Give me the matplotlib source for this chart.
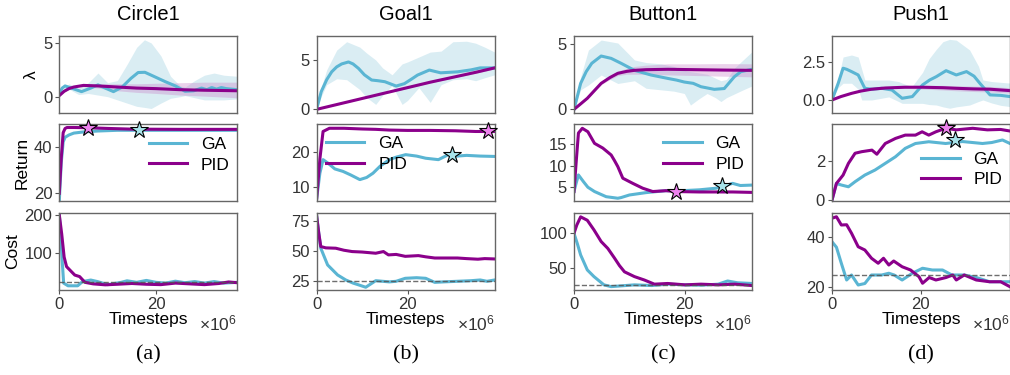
import matplotlib.pyplot as plt

plt.rcParams['font.family'] = ['Liberation Sans', 'DejaVu Sans']
plt.rcParams['mathtext.default'] = 'regular'

# ---------------- data (timesteps in units of 1e6) ----------------
envs = ['Circle1', 'Goal1', 'Button1', 'Push1']
panel_tags = ['(a)', '(b)', '(c)', '(d)']
x_end = [36.8, 39.2, 32.1, 40.1]
cost_limit = 25

# Circle1
circle_lam_ga_t = [0, 0.6, 1.2, 2.5, 4.6, 6.5, 8, 9.5, 11.2, 13, 14.8, 16.3, 17.7, 19.5, 21.9, 24, 26, 27.8, 29.4, 30.5, 31.5, 32.5, 33.5, 34.5, 36.8]
circle_lam_ga = [0.3, 0.8, 1.0, 0.8, 0.47, 0.8, 1.1, 0.8, 0.47, 0.9, 1.7, 2.25, 2.27, 1.9, 1.4, 1.0, 0.5, 0.55, 0.8, 0.65, 0.85, 0.7, 0.85, 0.75, 0.65]
circle_band_ga_t = [0, 2, 4, 6, 8, 10, 12, 14, 16, 17.6, 19, 21, 23, 25, 26, 28, 30, 32, 34, 36.8]
circle_band_ga_hi = [0.4, 1.2, 0.8, 1.3, 2.2, 1.3, 1.5, 3.0, 4.6, 5.3, 5.0, 3.8, 1.9, 1.0, 0.9, 1.5, 2.0, 2.2, 2.0, 1.9]
circle_band_ga_lo = [0.2, 0.7, 0.2, 0.3, 0.15, 0.0, -0.3, -0.6, -0.9, -1.0, -1.1, -0.6, -0.15, 0.0, 0.1, -0.1, -0.3, -0.3, -0.3, -0.2]
circle_lam_pid_t = [0, 1, 2, 3, 5, 8, 12, 16, 20, 25, 30, 36.8]
circle_lam_pid = [0.1, 0.5, 0.75, 0.9, 1.05, 1.0, 0.9, 0.8, 0.75, 0.65, 0.6, 0.55]
circle_band_pid_hi = [0.1, 0.55, 0.8, 0.95, 1.15, 1.2, 1.2, 1.2, 1.25, 1.3, 1.35, 1.35]
circle_band_pid_lo = [0.1, 0.45, 0.7, 0.85, 0.95, 0.8, 0.55, 0.4, 0.3, 0.15, 0.05, -0.1]
circle_ret_ga_t = [0, 0.4, 0.8, 1.2, 2, 3, 5, 8, 12, 17, 25, 36.8]
circle_ret_ga = [16.8, 33, 42, 44, 45, 45.8, 46.3, 46.7, 47.0, 47.0, 47.0, 47.0]
circle_ret_pid_t = [0, 0.4, 0.8, 1.2, 1.6, 3, 6, 10, 15, 25, 36.8]
circle_ret_pid = [20, 35, 46, 47.8, 48.2, 48.2, 48.1, 47.8, 47.5, 47.4, 47.4]
circle_cost_ga_t = [0, 0.3, 0.6, 0.9, 1.8, 3.8, 4.8, 6.5, 7.9, 10, 12.8, 14, 16, 18, 20, 22, 24, 26, 28, 30, 32, 34, 36.8]
circle_cost_ga = [200, 150, 80, 22, 15, 15, 26, 30, 26, 18, 24, 28, 24, 29, 24, 22, 27, 23, 26, 22, 26, 22, 24]
circle_cost_pid_t = [0, 0.5, 1, 1.5, 2.5, 3.2, 4.2, 5.3, 7, 9.5, 12, 15, 18, 21, 24, 27, 30, 33, 35, 36.8]
circle_cost_pid = [200, 150, 90, 65, 52, 43, 39, 24, 20, 17.5, 19, 21, 19, 18, 22, 20, 18, 21, 25, 23]

# Goal1
goal_lam_ga_t = [0, 1, 2.2, 3.3, 4.4, 5.5, 7, 8, 9.2, 10.5, 12.1, 13.5, 15, 17.5, 19.3, 21, 22.2, 24.8, 27.3, 31, 34, 36, 39.2]
goal_lam_ga = [0.05, 1.8, 3.0, 3.8, 4.3, 4.6, 4.8, 4.6, 4.15, 3.5, 2.97, 2.9, 2.8, 2.36, 2.6, 3.1, 3.47, 3.98, 3.7, 3.8, 4.0, 4.2, 4.2]
goal_band_ga_t = [0, 1, 2.2, 4.4, 6.6, 9.5, 11, 13, 14.5, 16.6, 18.8, 20, 22.5, 25, 27.4, 30, 33, 35, 37, 39.2]
goal_band_ga_hi = [0.1, 2.2, 4.0, 6.0, 6.85, 6.3, 5.7, 5.0, 4.2, 3.5, 4.6, 4.8, 5.3, 5.8, 5.9, 6.85, 6.9, 6.7, 6.3, 5.8]
goal_band_ga_lo = [0.0, 1.3, 2.5, 3.1, 3.0, 2.0, 1.2, 0.5, 1.4, 2.4, 0.5, 0.9, 2.2, 0.7, 2.5, 3.0, 3.1, 2.9, 3.2, 3.5]
goal_lam_pid_t = [0, 5, 10, 15, 20, 25, 30, 35, 39.2]
goal_lam_pid = [0, 0.55, 1.1, 1.65, 2.2, 2.75, 3.25, 3.75, 4.2]
goal_band_pid_hi = [0, 0.58, 1.14, 1.7, 2.26, 2.82, 3.33, 3.84, 4.3]
goal_band_pid_lo = [0, 0.52, 1.06, 1.6, 2.14, 2.68, 3.17, 3.66, 4.1]
goal_ret_ga_t = [0, 0.7, 1.4, 2.5, 4, 5.8, 7.5, 9.5, 11, 12.4, 14, 16, 17.5, 19.6, 22, 24, 26.8, 29, 31, 33, 36, 39.2]
goal_ret_ga = [7.0, 14, 17.8, 16.8, 15.2, 14.5, 13.5, 12.2, 12.8, 14.0, 16, 17.8, 18.5, 19.2, 18.8, 18.2, 17.8, 19.2, 18.8, 19.0, 18.8, 18.7]
goal_ret_pid_t = [0, 0.7, 1.4, 2.8, 6, 10, 13, 16, 20, 25, 30.5, 35, 39.2]
goal_ret_pid = [7.0, 18, 25.7, 26.6, 26.6, 26.4, 26.3, 26.1, 26.0, 26.0, 25.9, 25.7, 25.7]
goal_cost_ga_t = [0, 0.45, 0.9, 2.4, 4.6, 6.4, 8, 9.3, 10.8, 12, 13, 16, 17.5, 19.5, 22, 24, 26, 28, 31, 34, 36, 37.5, 39.2]
goal_cost_ga = [78.8, 65, 52.2, 38.2, 29.8, 25.6, 23, 21.4, 19.5, 22.5, 25, 24, 24.5, 27, 27.5, 27, 23.6, 24, 24.5, 25, 25.6, 24.5, 25.6]
goal_cost_pid_t = [0, 0.45, 0.9, 2, 4.2, 6, 7.8, 10, 13, 14.7, 15.8, 17.5, 19.5, 22.4, 24, 26, 28, 31, 33, 35.5, 37, 39.2]
goal_cost_pid = [78.8, 65, 53.6, 52.5, 52.2, 50.5, 49.4, 49, 48, 49.4, 46.6, 47, 45.4, 46, 45, 44, 44, 44, 43.5, 43, 43.5, 43.2]

# Button1
button_lam_ga_t = [0, 1.2, 2.2, 3.2, 4.9, 6.7, 8.5, 10.9, 13.9, 16.9, 18.5, 19.9, 21.5, 22.9, 25.3, 27.1, 28.9, 30.1, 32.1]
button_lam_ga = [0, 2.0, 2.9, 3.54, 4.1, 3.92, 3.54, 3.0, 2.64, 2.38, 2.25, 2.1, 2.0, 1.74, 1.54, 1.6, 2.5, 2.9, 3.08]
button_band_ga_t = [0, 1.2, 2.6, 4.9, 7.9, 10.9, 13, 15.7, 18, 19.9, 21, 22.5, 24, 25.5, 26.5, 27.5, 29, 30.5, 32.1]
button_band_ga_hi = [0, 2.5, 4.56, 5.33, 5.1, 3.8, 3.6, 3.5, 3.3, 3.0, 2.9, 2.8, 2.7, 2.4, 2.2, 2.3, 3.2, 3.8, 4.43]
button_band_ga_lo = [0, 1.5, 1.87, 2.64, 1.99, 2.2, 1.62, 1.5, 1.4, 1.22, 0.33, 0.8, 1.22, 0.9, 0.6, 0.9, 1.2, 1.5, 1.8]
button_lam_pid_t = [0, 1, 2.4, 3.7, 4.9, 6.5, 7.9, 9.5, 10.9, 13, 16.9, 22, 27, 32.1]
button_lam_pid = [0, 0.35, 0.85, 1.45, 2.0, 2.45, 2.77, 2.92, 3.0, 3.05, 3.08, 3.05, 3.02, 3.0]
button_band_pid_hi = [0, 0.38, 0.9, 1.5, 2.1, 2.6, 2.95, 3.15, 3.3, 3.4, 3.5, 3.5, 3.52, 3.5]
button_band_pid_lo = [0, 0.32, 0.8, 1.4, 1.9, 2.3, 2.6, 2.7, 2.7, 2.7, 2.65, 2.6, 2.55, 2.5]
button_ret_ga_t = [0, 0.4, 0.8, 1.7, 2.5, 3.7, 5.8, 7.9, 8.5, 10, 13, 16.6, 19.6, 22.6, 25.6, 27, 28.6, 30, 32.1]
button_ret_ga = [4.0, 6, 7.86, 6.3, 5.0, 4.0, 2.8, 2.44, 2.6, 3.2, 3.75, 4.2, 4.2, 4.4, 4.77, 5.3, 5.9, 5.4, 5.5]
button_ret_pid_t = [0, 0.4, 0.8, 1.5, 2.5, 3.7, 5.2, 6.7, 7.3, 7.9, 8.8, 9.7, 10.6, 12.4, 14.2, 16.6, 18.4, 22.6, 28.6, 32.1]
button_ret_pid = [4.0, 11, 17.6, 18.7, 17.9, 15.2, 14.1, 12.5, 11.2, 9.8, 7.1, 6.5, 5.9, 4.77, 4.0, 4.2, 4.0, 3.9, 3.9, 3.8]
button_cost_ga_t = [0, 0.6, 1.2, 2.4, 3.6, 5.4, 6.7, 8.5, 10.9, 14, 17, 20, 23, 26, 27.7, 29.5, 32.1]
button_cost_ga = [100, 85, 68.5, 46.7, 37, 25, 22.4, 23.5, 25, 24, 26, 25, 24.5, 26, 30.6, 28, 27]
button_cost_pid_t = [0, 0.5, 1.2, 2.4, 3.6, 4.9, 6.1, 7.3, 8.2, 9.1, 10.9, 12.7, 14.5, 16.9, 20, 22.9, 26, 29, 32.1]
button_cost_pid = [100, 112, 124, 119, 105, 88, 78, 64, 53, 44, 37, 32, 26, 27, 25, 26, 25, 26, 24]

# Push1
push_lam_ga_t = [0, 1.4, 2.5, 3.3, 4.4, 5.9, 7.4, 9, 11.2, 13.5, 15.8, 18.1, 20.4, 22, 23.5, 25.7, 28, 30.3, 32, 33.3, 35.6, 38, 40.1]
push_lam_ga = [0, 1.09, 2.07, 2.0, 1.85, 1.63, 0.76, 0.7, 0.76, 0.65, 0.11, 0.22, 0.98, 1.3, 1.52, 1.91, 1.63, 1.85, 1.55, 1.09, 0.33, 0.3, 0.22]
push_band_ga_t = [0, 1.4, 2.5, 4.4, 5.9, 6.7, 7.4, 9, 12.8, 15, 15.8, 18, 20.4, 21.9, 23.5, 25, 26.5, 28, 31, 33, 34, 36, 38, 40.1]
push_band_ga_hi = [0, 1.4, 2.8, 2.93, 2.8, 2.0, 1.3, 1.3, 1.3, 1.2, 1.1, 0.87, 1.8, 2.7, 3.3, 3.8, 3.95, 3.9, 3.26, 2.2, 1.3, 1.2, 1.15, 1.1]
push_band_ga_lo = [0, 0.8, 1.09, 1.09, 0.7, 0.0, 0.0, 0.0, 0.2, -0.1, -0.22, -0.22, -0.22, -0.3, -0.33, -0.45, -0.54, -0.45, -0.33, -0.1, 0.0, -0.2, -0.35, -0.43]
push_lam_pid_t = [0, 2, 4.4, 6.5, 8.9, 12, 16.4, 20.4, 25, 28, 32, 35.6, 40.1]
push_lam_pid = [0, 0.22, 0.43, 0.58, 0.7, 0.78, 0.83, 0.83, 0.8, 0.76, 0.72, 0.7, 0.61]
push_band_pid_hi = [0, 0.23, 0.45, 0.6, 0.73, 0.82, 0.9, 0.95, 0.95, 0.93, 0.9, 0.88, 0.8]
push_band_pid_lo = [0, 0.21, 0.41, 0.56, 0.67, 0.74, 0.76, 0.71, 0.65, 0.6, 0.55, 0.52, 0.45]
push_ret_ga_t = [0, 1, 2.1, 3.7, 5.2, 7.4, 9.7, 12, 14.3, 16.5, 18.8, 21.8, 25.6, 29.4, 33.9, 36, 38.4, 40.1]
push_ret_ga = [0, 0.85, 0.77, 0.68, 0.94, 1.28, 1.54, 1.88, 2.22, 2.65, 2.9, 2.99, 2.9, 3.0, 2.9, 2.95, 3.08, 2.9]
push_ret_pid_t = [0, 1, 2.5, 3.7, 5.2, 6.7, 9, 10.1, 12, 14.3, 16.5, 18.8, 20.3, 21.8, 23.4, 25.6, 28, 31.7, 35, 38, 40.1]
push_ret_pid = [0, 0.85, 1.28, 1.88, 2.4, 2.48, 2.56, 2.35, 2.9, 3.16, 3.33, 3.33, 3.5, 3.33, 3.5, 3.68, 3.6, 3.68, 3.6, 3.62, 3.54]
push_cost_ga_t = [0, 1, 2.1, 3.3, 4.4, 5.9, 7.4, 8.9, 11.2, 12.8, 14, 15.8, 18.1, 20.4, 22.6, 24.9, 27, 29.8, 32.5, 35.5, 40.1]
push_cost_ga = [38.2, 36, 29.6, 22.9, 24.9, 20.9, 21.5, 24.9, 24.9, 25.6, 24.9, 22.9, 25.6, 27.6, 26.9, 26.9, 24.9, 24.9, 23.9, 22.2, 22.2]
push_cost_pid_t = [0, 1, 2.1, 3.3, 4.4, 5.9, 7.4, 8.9, 10.4, 11.6, 12.8, 13.9, 15.8, 17.7, 19.6, 20.4, 21.9, 23.4, 25.7, 27.2, 28, 29.8, 32.5, 35.5, 38, 40.1]
push_cost_pid = [47.6, 48.2, 44.9, 45, 41.6, 36.2, 34.9, 31.6, 29.6, 31.6, 28.9, 30.5, 28.2, 26.9, 24.2, 21.6, 23.9, 22.9, 23.9, 24.9, 22.9, 24.9, 22.9, 22.2, 22.2, 20.2]

# best-return markers (t, value) for PID and GA
star_pid = [(6.0, 47.9), (37.8, 25.7), (18.4, 4.0), (25.6, 3.7)]
star_ga = [(16.5, 47.2), (29.7, 19.0), (26.6, 5.3), (27.6, 3.08)]

lam_data = [
    (circle_lam_ga_t, circle_lam_ga, circle_band_ga_t, circle_band_ga_lo, circle_band_ga_hi,
     circle_lam_pid_t, circle_lam_pid, circle_band_pid_lo, circle_band_pid_hi),
    (goal_lam_ga_t, goal_lam_ga, goal_band_ga_t, goal_band_ga_lo, goal_band_ga_hi,
     goal_lam_pid_t, goal_lam_pid, goal_band_pid_lo, goal_band_pid_hi),
    (button_lam_ga_t, button_lam_ga, button_band_ga_t, button_band_ga_lo, button_band_ga_hi,
     button_lam_pid_t, button_lam_pid, button_band_pid_lo, button_band_pid_hi),
    (push_lam_ga_t, push_lam_ga, push_band_ga_t, push_band_ga_lo, push_band_ga_hi,
     push_lam_pid_t, push_lam_pid, push_band_pid_lo, push_band_pid_hi),
]
ret_data = [
    (circle_ret_ga_t, circle_ret_ga, circle_ret_pid_t, circle_ret_pid),
    (goal_ret_ga_t, goal_ret_ga, goal_ret_pid_t, goal_ret_pid),
    (button_ret_ga_t, button_ret_ga, button_ret_pid_t, button_ret_pid),
    (push_ret_ga_t, push_ret_ga, push_ret_pid_t, push_ret_pid),
]
cost_data = [
    (circle_cost_ga_t, circle_cost_ga, circle_cost_pid_t, circle_cost_pid),
    (goal_cost_ga_t, goal_cost_ga, goal_cost_pid_t, goal_cost_pid),
    (button_cost_ga_t, button_cost_ga, button_cost_pid_t, button_cost_pid),
    (push_cost_ga_t, push_cost_ga, push_cost_pid_t, push_cost_pid),
]

# axis settings
lam_ylim = [(-1.52, 5.65), (-0.37, 7.43), (-0.28, 5.64), (-0.85, 4.17)]
lam_ticks = [[0, 5], [0, 5], [0, 5], [0.0, 2.5]]
ret_ylim = [(16.7, 49.7), (6.2, 27.8), (1.8, 19.7), (-0.05, 3.9)]
ret_ticks = [[20, 40], [10, 20], [5, 10, 15], [0, 2]]
cost_ylim = [(4, 205), (17.2, 81.7), (17.5, 129.6), (18.9, 49.7)]
cost_ticks = [[100, 200], [25, 50, 75], [50, 100], [20, 40]]
legend_pos = [(0.73, 0.60), (0.28, 0.61), (0.73, 0.61), (0.73, 0.41)]

# ---------------- style ----------------
GA_C = '#5ab5d3'
GA_BAND = '#add8e6'
PID_C = '#8b008b'
PID_BAND = '#c77fc7'
FS = 12.5
TFS = 12

W, H = 1010, 375
fig = plt.figure(figsize=(W / 100, H / 100), dpi=100)

col_left = [59.3, 316.7, 574, 832]
col_w = 178
rows = [(36, 113), (124, 201), (213, 290)]


def make_ax(c, r):
    top, bot = rows[r]
    ax = fig.add_axes([col_left[c] / W, 1 - bot / H, col_w / W, (bot - top) / H])
    for s in ax.spines.values():
        s.set_color('#666666')
        s.set_linewidth(1.0)
    ax.tick_params(axis='both', length=3, width=0.8, color='#555555',
                   labelcolor='#333333', labelsize=TFS, pad=2)
    ax.set_xlim(0, x_end[c])
    ax.set_xticks([0, 20])
    return ax


for c in range(4):
    # lambda
    ax = make_ax(c, 0)
    (gt, g, bt, blo, bhi, pt, p, plo, phi) = lam_data[c]
    ax.fill_between(bt, blo, bhi, color=GA_BAND, alpha=0.45, lw=0)
    ax.fill_between(pt, plo, phi, color=PID_BAND, alpha=0.35, lw=0)
    ax.plot(gt, g, color=GA_C, lw=2.2)
    ax.plot(pt, p, color=PID_C, lw=2.2)
    ax.set_ylim(*lam_ylim[c])
    ax.set_yticks(lam_ticks[c])
    if c == 3:
        ax.set_yticklabels(['0.0', '2.5'])
    ax.tick_params(axis='x', bottom=False, labelbottom=False)
    if c == 0:
        ax.set_ylabel('λ', fontsize=FS, labelpad=3)
    fig.text((col_left[c] + col_w / 2) / W, 1 - 15 / H, envs[c],
             ha='center', va='center', fontsize=14.5)

    # return
    ax = make_ax(c, 1)
    gt, g, pt, p = ret_data[c]
    l1, = ax.plot(gt, g, color=GA_C, lw=2.2, label='GA')
    l2, = ax.plot(pt, p, color=PID_C, lw=2.2, label='PID')
    ax.plot(*star_pid[c], marker='*', ms=13, mfc='#ee82ee', mec='black', mew=0.8,
            zorder=5, clip_on=False)
    ax.plot(*star_ga[c], marker='*', ms=13, mfc='#a8e4ea', mec='black', mew=0.8,
            zorder=5, clip_on=False)
    ax.set_ylim(*ret_ylim[c])
    ax.set_yticks(ret_ticks[c])
    ax.tick_params(axis='x', bottom=False, labelbottom=False)
    if c == 0:
        ax.set_ylabel('Return', fontsize=FS, labelpad=3)
    ax.legend(handles=[l1, l2], loc='center', bbox_to_anchor=legend_pos[c],
              frameon=False, fontsize=FS, handlelength=2.2, handletextpad=0.8,
              labelspacing=0.3, borderpad=0)

    # cost
    ax = make_ax(c, 2)
    gt, g, pt, p = cost_data[c]
    ax.plot(gt, g, color=GA_C, lw=2.2)
    ax.plot(pt, p, color=PID_C, lw=2.2)
    ax.axhline(cost_limit, color='#555555', ls='--', lw=1.0, alpha=0.85, zorder=4)
    ax.set_ylim(*cost_ylim[c])
    ax.set_yticks(cost_ticks[c])
    if c == 0:
        ax.set_ylabel('Cost', fontsize=FS, labelpad=3)
    ax.set_xlabel('Timesteps', fontsize=FS, labelpad=0)
    ax.text(1.0, -0.43, '×10$^{6}$', transform=ax.transAxes, ha='right',
            va='center', fontsize=FS, color='#333333')
    fig.text((col_left[c] + col_w / 2) / W, 1 - 355 / H, panel_tags[c],
             ha='center', va='center', fontsize=16, family='Liberation Serif')

fig.savefig('out.png', dpi=100)
